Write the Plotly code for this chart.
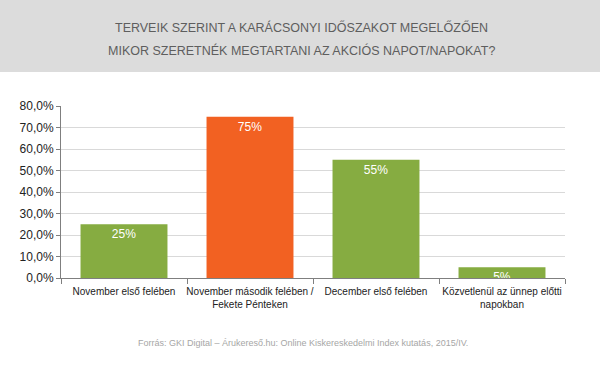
import plotly.graph_objects as go

categories = ["November első felében", "November második felében /<br>Fekete Pénteken",
              "December első felében", "Közvetlenül az ünnep előtti<br>napokban"]
values = [25, 75, 55, 5]
colors = ["#86AC41", "#F26122", "#86AC41", "#86AC41"]
title_lines = ["TERVEIK SZERINT A KARÁCSONYI IDŐSZAKOT MEGELŐZŐEN",
               "MIKOR SZERETNÉK MEGTARTANI AZ AKCIÓS NAPOT/NAPOKAT?"]
source = "Forrás: GKI Digital – Árukereső.hu: Online Kiskereskedelmi Index kutatás, 2015/IV."

W, H = 600, 367
ml, mr, mt, mb = 61, 35, 106, 89
pw, ph = W - ml - mr, H - mt - mb
FONT = "Liberation Sans, Arial, sans-serif"

def px_y(py):
    return (H - mb - py) / ph

def px_x(px):
    return (px - ml) / pw

fig = go.Figure(go.Bar(
    x=categories, y=values, marker_color=colors, marker_line_width=0,
    width=0.69,
    texttemplate="%{y:.0f}%", textposition="inside", insidetextanchor="end",
    constraintext="none",
    textfont=dict(color="white", size=12, family=FONT),
    cliponaxis=False, hoverinfo="skip",
))

fig.update_layout(
    width=W, height=H, margin=dict(l=ml, r=mr, t=mt, b=mb, autoexpand=False),
    paper_bgcolor="white", plot_bgcolor="white", showlegend=False,
    separators=", ",
    font=dict(family=FONT, color="#222", size=12),
    shapes=[dict(type="rect", xref="paper", yref="paper",
                 x0=px_x(0), x1=px_x(W), y0=px_y(72), y1=px_y(0),
                 fillcolor="#DCDCDC", line_width=0, layer="below")],
    annotations=[
        dict(text=title_lines[0], xref="paper", yref="paper", x=px_x(301), y=px_y(27),
             showarrow=False, xanchor="center", yanchor="middle",
             font=dict(size=12.5, color="#5E5E5E", family=FONT)),
        dict(text=title_lines[1], xref="paper", yref="paper", x=px_x(301), y=px_y(50),
             showarrow=False, xanchor="center", yanchor="middle",
             font=dict(size=12.5, color="#5E5E5E", family=FONT)),
        dict(text=source, xref="paper", yref="paper", x=px_x(303), y=px_y(343),
             showarrow=False, xanchor="center", yanchor="middle",
             font=dict(size=9, color="#A6A6A6", family=FONT)),
    ],
)
fig.update_yaxes(range=[0, 80], dtick=10, tickformat=".1f", ticksuffix="%",
                 showgrid=True, gridcolor="#D9D9D9", gridwidth=1,
                 showline=True, linecolor="#7F7F7F", linewidth=1,
                 ticks="outside", ticklen=4, tickcolor="#7F7F7F",
                 tickfont=dict(size=12, color="#222"), zeroline=False, automargin=False)
fig.update_xaxes(showline=True, linecolor="#7F7F7F", linewidth=1,
                 ticks="outside", ticklen=5, tickcolor="#7F7F7F", tickson="boundaries",
                 tickangle=0, automargin=False, ticklabelstandoff=4,
                 tickfont=dict(size=10, color="#222"))

fig.write_html("out.html", config={"displayModeBar": False},
               post_script="document.body.style.margin='0';document.body.style.overflow='hidden';")
